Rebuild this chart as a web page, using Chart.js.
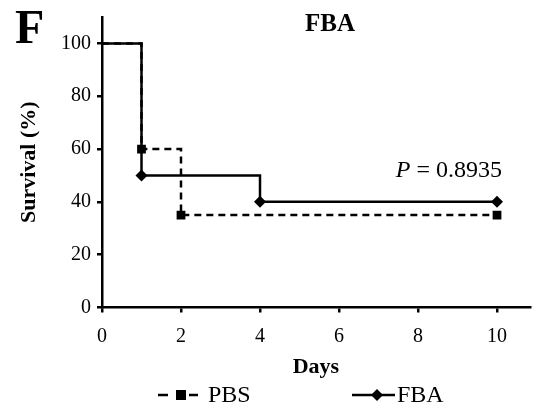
<!DOCTYPE html>
<html>
<head>
<meta charset="utf-8">
<script src="https://cdn.jsdelivr.net/npm/chart.js@4/dist/chart.umd.min.js"></script>
<style>
html,body{margin:0;padding:0;background:#fff;}
#wrap{width:536px;height:408px;position:relative;}
</style>
</head>
<body>
<div id="wrap"><canvas id="c" width="536" height="408"></canvas></div>
<script>
// Data (Kaplan-Meier steps)
const pbsDays = [0, 1, 2, 10];
const pbsSurvival = [100, 60, 35, 35];
const fbaDays = [0, 1, 4, 10];
const fbaSurvival = [100, 50, 40, 40];
const xTicks = [0, 2, 4, 6, 8, 10];
const yTicks = [0, 20, 40, 60, 80, 100];
const seriesNames = ['PBS', 'FBA'];
const chartTitle = 'FBA';
const panelLetter = 'F';
const pValueText = '0.8935';

const SERIF = "'Liberation Serif', 'Times New Roman', serif";

function pts(xs, ys){ return xs.map((x,i)=>({x:x, y:ys[i]})); }
function radii(xs, r){ return xs.map((x,i)=> i===0 ? 0 : r); }

const annotate = {
  id:'annotate',
  afterDraw(chart){
    const ctx = chart.ctx;
    const xs = chart.scales.x, ys = chart.scales.y;
    ctx.save();
    ctx.fillStyle = '#000';
    // panel letter
    ctx.font = "bold 48px " + SERIF;
    ctx.textAlign = 'left'; ctx.textBaseline = 'alphabetic';
    ctx.fillText(panelLetter, 15, 43);
    // title
    ctx.font = "bold 25px " + SERIF;
    ctx.textAlign = 'center';
    ctx.fillText(chartTitle, 330, 31);
    // P value
    const right = xs.getPixelForValue(10) + 5;
    const yb = ys.getPixelForValue(52.5) + 8;
    ctx.font = "24px " + SERIF;
    const rest = ' = ' + pValueText;
    const wr = ctx.measureText(rest).width;
    ctx.textAlign = 'left';
    ctx.fillText(rest, right - wr, yb);
    ctx.font = "italic 24px " + SERIF;
    const wp = ctx.measureText('P').width;
    ctx.fillText('P', right - wr - wp, yb);
    // legend
    const ly = 395;
    ctx.strokeStyle = '#000'; ctx.lineWidth = 2.5;
    // PBS: dash, square, dash
    ctx.beginPath();
    ctx.moveTo(158, ly); ctx.lineTo(168, ly);
    ctx.moveTo(189, ly); ctx.lineTo(198, ly);
    ctx.stroke();
    ctx.fillRect(176, ly-5, 10, 10);
    ctx.font = "24px " + SERIF;
    ctx.textBaseline = 'middle';
    ctx.fillText(seriesNames[0], 208, ly+1);
    // FBA
    ctx.beginPath(); ctx.moveTo(352, ly); ctx.lineTo(395, ly); ctx.stroke();
    ctx.beginPath();
    ctx.moveTo(377, ly-6); ctx.lineTo(383, ly); ctx.lineTo(377, ly+6); ctx.lineTo(371, ly); ctx.closePath(); ctx.fill();
    ctx.fillText(seriesNames[1], 397, ly+1);
    ctx.restore();
  }
};

new Chart(document.getElementById('c'), {
  type: 'line',
  data: {
    datasets: [
      {
        label: seriesNames[0],
        data: pts(pbsDays, pbsSurvival),
        stepped: 'before',
        borderColor: '#000', backgroundColor: '#000',
        borderWidth: 2.5, borderDash: [7,5],
        pointStyle: 'rect', pointRadius: radii(pbsDays, 6.2), pointBorderWidth: 0,
        pointBackgroundColor: '#000', fill: false
      },
      {
        label: seriesNames[1],
        data: pts(fbaDays, fbaSurvival),
        stepped: 'before',
        borderColor: '#000', backgroundColor: '#000',
        borderWidth: 2.5,
        pointStyle: 'rectRot', pointRadius: radii(fbaDays, 6), pointBorderWidth: 0,
        pointBackgroundColor: '#000', fill: false
      }
    ]
  },
  options: {
    responsive: false,
    animation: false,
    layout: { padding: { top: 17, right: 0, left: 0, bottom: 0 } },
    plugins: { legend: { display: false }, tooltip: { enabled: false }, title: { display: false } },
    scales: {
      x: {
        type: 'linear', min: 0, max: 10.83,
        afterBuildTicks(s){ s.ticks = xTicks.map(v=>({value:v})); },
        afterFit(s){ s.height = 100.5; s.paddingLeft = 0; s.paddingRight = 0; },
        ticks: { color:'#000', font:{ family: SERIF, size: 20 }, padding: 12, maxRotation: 0 },
        grid: { display: true, drawOnChartArea: false, drawTicks: true, tickLength: 5, color:'#000', lineWidth: 2.5 },
        border: { display: true, color:'#000', width: 2.5 },
        title: { display: true, text: 'Days', color:'#000', font:{ family: SERIF, size: 22, weight:'bold' }, padding:{ top: 0, bottom: 27 } }
      },
      y: {
        type: 'linear', min: 0, max: 110,
        afterBuildTicks(s){ s.ticks = yTicks.map(v=>({value:v})); },
        afterFit(s){ s.width = 102; s.paddingTop = 0; s.paddingBottom = 0; },
        ticks: { color:'#000', font:{ family: SERIF, size: 20 }, padding: 6 },
        grid: { display: true, drawOnChartArea: false, drawTicks: true, tickLength: 5, color:'#000', lineWidth: 2.5 },
        border: { display: true, color:'#000', width: 2.5 },
        title: { display: true, text: 'Survival (%)', color:'#000', font:{ family: SERIF, size: 22, weight:'bold' }, padding:{ top: 16, bottom: 0 } }
      }
    }
  },
  plugins: [annotate]
});
</script>
</body>
</html>
